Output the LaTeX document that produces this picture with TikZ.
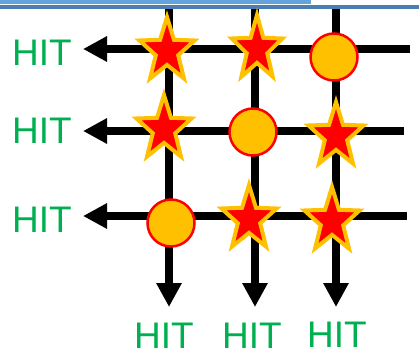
\documentclass[tikz,border=0pt]{standalone}
\usepackage{fontspec}
\setmainfont{Liberation Sans}
\usetikzlibrary{arrows.meta,shapes.geometric}
\definecolor{hitgreen}{HTML}{00B050}
\definecolor{gold}{HTML}{FFC000}
\definecolor{bandlight}{HTML}{64A2DC}
\definecolor{banddark}{HTML}{4A7DB0}
\tikzset{
  gridline/.style={line width=8pt, draw=black, -{Triangle[width=24pt,length=24pt]}},
  starmark/.style={star, star points=5, star point ratio=2.45, minimum size=68pt, inner sep=0pt, fill=red, draw=gold, line width=4pt, transform shape},
  circmark/.style={circle, minimum size=47pt, inner sep=0pt, fill=gold, draw=red, line width=2.5pt},
  hit/.style={text=hitgreen, inner sep=0pt, font=\fontsize{37}{37}\selectfont}
}
\begin{document}
\begin{tikzpicture}[x=1pt,y=-1pt]
\useasboundingbox (0,0) rectangle (419,351);
% top bands
\fill[bandlight] (0,0) rectangle (311,4.2);
\fill[banddark] (0,5) rectangle (419,9);
% coordinates
\coordinate (c1t) at (169,9);
\coordinate (c2t) at (255,9);
\coordinate (c3t) at (336,9);
\coordinate (c1b) at (169,307);
\coordinate (c2b) at (255,307);
\coordinate (c3b) at (336,307);
\coordinate (r1r) at (410,49);
\coordinate (r2r) at (404,131);
\coordinate (r3r) at (407,216);
\coordinate (r1l) at (83,49);
\coordinate (r2l) at (83,131);
\coordinate (r3l) at (83,216);
% lines
\draw[gridline] (c1t) -- (c1b);
\draw[gridline] (c2t) -- (c2b);
\draw[gridline] (c3t) -- (c3b);
\draw[gridline] (r1r) -- (r1l);
\draw[gridline] (r2r) -- (r2l);
\draw[gridline] (r3r) -- (r3l);
% stars
\begin{scope}[shift={(167,51)},xscale=0.85]\node[starmark] (s11) at (0,0) {};\end{scope}
\begin{scope}[shift={(257,49)},xscale=0.78]\node[starmark] (s12) at (0,0) {};\end{scope}
\begin{scope}[shift={(164,129)},xscale=0.85]\node[starmark] (s21) at (0,0) {};\end{scope}
\begin{scope}[shift={(336,136)},xscale=0.85]\node[starmark] (s23) at (0,0) {};\end{scope}
\begin{scope}[shift={(249,219)},xscale=0.85]\node[starmark] (s32) at (0,0) {};\end{scope}
\begin{scope}[shift={(332,221)},xscale=0.85]\node[starmark] (s33) at (0,0) {};\end{scope}
% circles
\node[circmark] (o13) at (334,57) {};
\node[circmark] (o22) at (253,132) {};
\node[circmark] (o31) at (171,223) {};
% labels
\node[hit] (h1) at (42,53) {HIT};
\node[hit] (h2) at (42,131) {HIT};
\node[hit] (h3) at (42,220) {HIT};
\node[hit] (b1) at (164,336) {HIT};
\node[hit] (b2) at (252,336) {HIT};
\node[hit] (b3) at (337,334.5) {HIT};
\end{tikzpicture}
\end{document}
